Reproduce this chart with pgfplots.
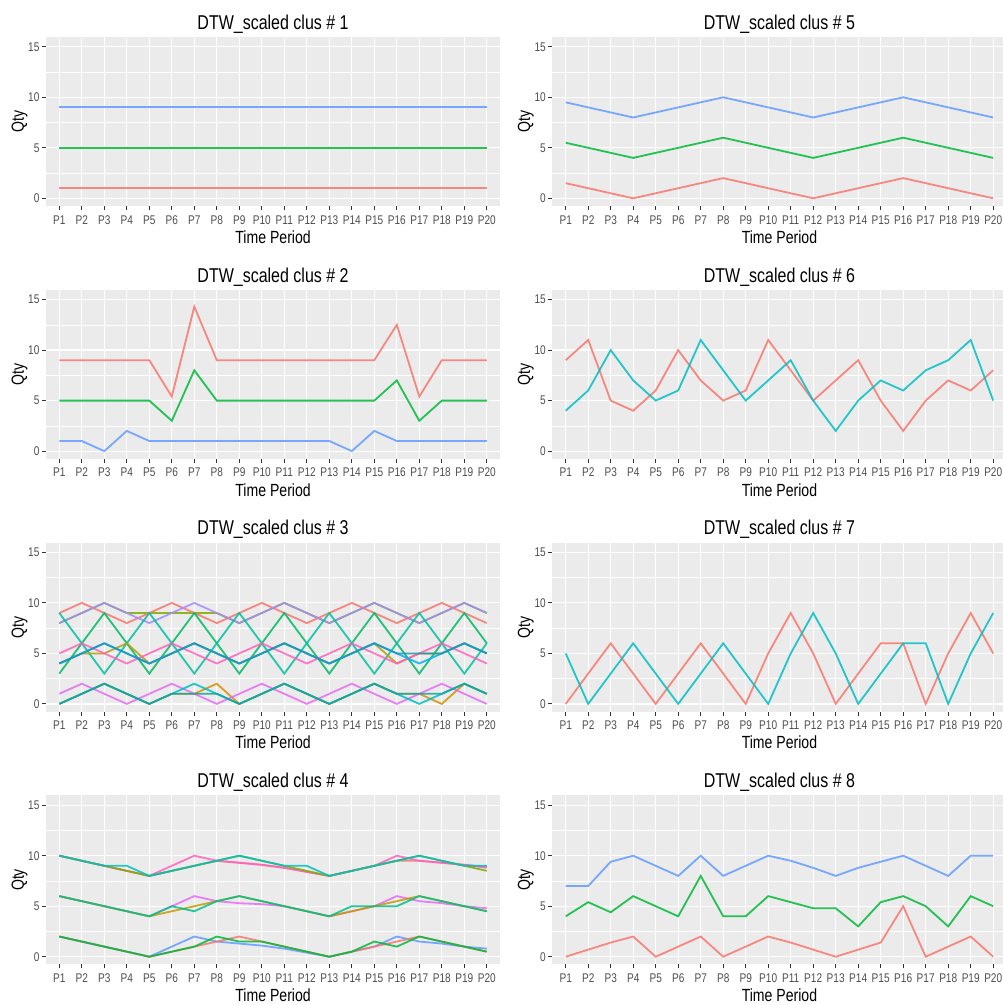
\documentclass[border=0pt]{standalone}
\usepackage{fontspec}
\setmainfont{Liberation Sans}[FakeStretch=0.8]
\usepackage{pgfplots}
\usepackage{pgfplotstable}
\pgfplotsset{compat=1.18}

\definecolor{panelbg}{HTML}{EBEBEB}
\definecolor{tickgrey}{HTML}{333333}
\definecolor{labelgrey}{HTML}{4D4D4D}
\definecolor{ggred}{HTML}{F8766D}
\definecolor{gggreen}{HTML}{00BA38}
\definecolor{ggblue}{HTML}{619CFF}
\definecolor{ggcyan}{HTML}{00BFC4}
\definecolor{ggpurple}{HTML}{A58AFF}
\definecolor{ggolive}{HTML}{7CAE00}
\definecolor{ggvgreen}{HTML}{00BA62}
\definecolor{ggteal}{HTML}{00C0A0}
\definecolor{ggpink}{HTML}{FF62BC}
\definecolor{gglblue}{HTML}{00B0F6}
\definecolor{ggdblue}{HTML}{1F94B8}
\definecolor{ggyolive}{HTML}{B3A000}
\definecolor{ggmag}{HTML}{E76BF3}
\definecolor{ggorange}{HTML}{D89000}
\definecolor{ggmagpink}{HTML}{FF61C3}
\definecolor{ggtgreen}{HTML}{00C08B}
\definecolor{ggmorange}{HTML}{C49A00}
\definecolor{ggdteal}{HTML}{17A39A}

\pgfplotsset{gg/.style={
  scale only axis, width=227.25pt, height=84.45pt,
  anchor=south west,
  xmin=0.4, xmax=20.6, ymin=-0.76, ymax=15.96,
  axis background/.style={fill=panelbg},
  axis line style={draw=none},
  xtick={1,...,20},
  xticklabels={P1,P2,P3,P4,P5,P6,P7,P8,P9,P10,P11,P12,P13,P14,P15,P16,P17,P18,P19,P20},
  ytick={0,5,10,15}, minor ytick={2.5,7.5,12.5},
  xmajorgrids, ymajorgrids, yminorgrids,
  major grid style={white, line width=0.6pt},
  minor grid style={white, line width=0.3pt},
  tick align=outside, xtick pos=lower, ytick pos=left,
  major tick length=2pt, minor tick length=0pt,
  every tick/.style={color=tickgrey, line width=0.5pt},
  tick label style={font=\fontsize{6.3}{7}\selectfont, text=labelgrey},
  xticklabel style={inner sep=1pt, yshift=-1.5pt},
  yticklabel style={inner sep=1pt},
  /pgf/number format/assume math mode=true,
  every axis title shift=0pt,
  title style={at={(axis description cs:0.5,1.0456)}, anchor=base, yshift=0pt, font=\fontsize{10}{12}\selectfont},
  xlabel={Time Period}, ylabel={Qty},
  xlabel style={at={(axis description cs:0.5,-0.2208)}, anchor=base, font=\fontsize{8.8}{10}\selectfont},
  ylabel style={at={(axis description cs:-0.058,0.5)}, anchor=center, font=\fontsize{8.8}{10}\selectfont},
  every axis plot/.append style={line width=0.9pt, opacity=0.85, mark=none},
}}

\pgfplotstableread{
x r g b
1 1 5 9
2 1 5 9
3 1 5 9
4 1 5 9
5 1 5 9
6 1 5 9
7 1 5 9
8 1 5 9
9 1 5 9
10 1 5 9
11 1 5 9
12 1 5 9
13 1 5 9
14 1 5 9
15 1 5 9
16 1 5 9
17 1 5 9
18 1 5 9
19 1 5 9
20 1 5 9
}\tabA

\pgfplotstableread{
x r g b
1 9 5 1
2 9 5 1
3 9 5 0
4 9 5 2
5 9 5 1
6 5.4 3 1
7 14.3 8 1
8 9 5 1
9 9 5 1
10 9 5 1
11 9 5 1
12 9 5 1
13 9 5 1
14 9 5 0
15 9 5 2
16 12.5 7 1
17 5.4 3 1
18 9 5 1
19 9 5 1
20 9 5 1
}\tabB

\pgfplotstableread{
x r pu ol gr te pk lb db yo mg cy dt or
1 9 8 8 3 9 5 4 4 4 1 0 0 0
2 10 9 9 6 6 6 5 5 5 2 1 1 1
3 9 10 10 9 3 5 6 6 5 1 2 2 2
4 8 9 9 6 6 4 5 5 6 0 1 1 1
5 9 8 9 3 9 5 4 4 4 1 0 0 0
6 10 9 9 6 6 6 5 5 5 2 1 1 1
7 9 10 9 9 3 5 6 6 6 1 2 1 1
8 8 9 9 6 6 4 5 5 5 0 1 1 2
9 9 8 8 3 9 5 4 4 4 1 0 0 0
10 10 9 9 6 6 6 5 5 5 2 1 1 1
11 9 10 10 9 3 5 6 6 6 1 2 2 2
12 8 9 9 6 6 4 5 5 5 0 1 1 1
13 9 8 8 3 9 5 4 4 4 1 0 0 0
14 10 9 9 6 6 6 5 5 5 2 1 1 1
15 9 10 10 9 3 5 6 6 6 1 2 2 2
16 8 9 9 6 6 4 5 5 4 0 1 1 1
17 9 8 8 3 9 5 4 5 5 1 0 1 1
18 10 9 9 6 6 6 5 5 5 2 1 1 0
19 9 10 10 9 3 5 6 6 6 1 2 2 2
20 8 9 9 6 6 4 5 5 5 0 1 1 1
}\tabC

\pgfplotstableread{
x tc tg tm tr mv mo mt bb br bg
1 10 10 10 10 6 6 6 2 2 2
2 9.5 9.5 9.5 9.5 5.5 5.5 5.5 1.5 1.5 1.5
3 9 9 9 9 5 5 5 1 1 1
4 9 8.5 8.5 8.5 4.5 4.5 4.5 0.5 0.5 0.5
5 8 8 8 8 4 4 4 0 0 0
6 8.5 8.5 9 8.5 5 4.5 5 1 0.5 0.5
7 9 9 10 9 6 5 4.5 2 1 1
8 9.5 9.5 9.5 9.5 5.5 5.5 5.5 1.5 1.5 2
9 10 10 9.3 9.3 5.3 6 6 1.3 2 1.5
10 9.5 9.5 9.1 9.1 5.2 5.5 5.5 1.1 1.5 1.5
11 9 9 8.8 8.8 5 5 5 0.8 1 1
12 9 8.5 8.4 8.4 4.5 4.5 4.5 0.4 0.5 0.5
13 8 8 8 8 4 4 4 0 0 0
14 8.5 8.5 8.5 8.5 4.5 4.5 5 0.5 0.5 0.5
15 9 9 9 9 5 5 5 1 1 1.5
16 9.5 9.5 10 9.5 6 5.5 5 2 1.5 1
17 10 10 9.5 9.5 5.5 6 6 1.5 2 2
18 9.5 9.5 9.3 9.3 5.3 5.5 5.5 1.3 1.5 1.5
19 9 9 9.1 9.1 5 5 5 1 1 1
20 9 8.5 8.8 8.9 4.8 4.5 4.5 0.8 0.5 0.5
}\tabD

\pgfplotstableread{
x r g b
1 1.5 5.5 9.5
2 1 5 9
3 0.5 4.5 8.5
4 0 4 8
5 0.5 4.5 8.5
6 1 5 9
7 1.5 5.5 9.5
8 2 6 10
9 1.5 5.5 9.5
10 1 5 9
11 0.5 4.5 8.5
12 0 4 8
13 0.5 4.5 8.5
14 1 5 9
15 1.5 5.5 9.5
16 2 6 10
17 1.5 5.5 9.5
18 1 5 9
19 0.5 4.5 8.5
20 0 4 8
}\tabE

\pgfplotstableread{
x r c
1 9 4
2 11 6
3 5 10
4 4 7
5 6 5
6 10 6
7 7 11
8 5 8
9 6 5
10 11 7
11 8 9
12 5 5
13 7 2
14 9 5
15 5 7
16 2 6
17 5 8
18 7 9
19 6 11
20 8 5
}\tabF

\pgfplotstableread{
x r c
1 0 5
2 3 0
3 6 3
4 3 6
5 0 3
6 3 0
7 6 3
8 3 6
9 0 3
10 5 0
11 9 5
12 5 9
13 0 5
14 3 0
15 6 3
16 6 6
17 0 6
18 5 0
19 9 5
20 5 9
}\tabG

\pgfplotstableread{
x r g b
1 0 4 7
2 0.7 5.4 7
3 1.4 4.4 9.4
4 2 6 10
5 0 5 9
6 1 4 8
7 2 8 10
8 0 4 8
9 1 4 9
10 2 6 10
11 1.4 5.4 9.5
12 0.7 4.8 8.8
13 0 4.8 8
14 0.7 3 8.8
15 1.4 5.4 9.4
16 5 6 10
17 0 5 9
18 1 3 8
19 2 6 10
20 0 5 10
}\tabH

\begin{document}
\begin{tikzpicture}
\path[use as bounding box] (0,0) rectangle (501pt,502.5pt);

% Panel 1
\begin{axis}[gg, at={(22.9pt,399.5pt)}, title={DTW\_scaled clus \# 1}]
\addplot[ggred] table[x=x,y=r]{\tabA};
\addplot[gggreen] table[x=x,y=g]{\tabA};
\addplot[ggblue] table[x=x,y=b]{\tabA};
\end{axis}

% Panel 2
\begin{axis}[gg, at={(22.9pt,273.1pt)}, title={DTW\_scaled clus \# 2}]
\addplot[ggred] table[x=x,y=r]{\tabB};
\addplot[gggreen] table[x=x,y=g]{\tabB};
\addplot[ggblue] table[x=x,y=b]{\tabB};
\end{axis}

% Panel 3
\begin{axis}[gg, at={(22.9pt,146.7pt)}, title={DTW\_scaled clus \# 3}]
\addplot[ggolive] table[x=x,y=ol]{\tabC};
\addplot[ggred] table[x=x,y=r]{\tabC};
\addplot[ggpurple] table[x=x,y=pu]{\tabC};
\addplot[ggvgreen] table[x=x,y=gr]{\tabC};
\addplot[ggteal] table[x=x,y=te]{\tabC};
\addplot[ggyolive] table[x=x,y=yo]{\tabC};
\addplot[ggpink] table[x=x,y=pk]{\tabC};
\addplot[gglblue] table[x=x,y=lb]{\tabC};
\addplot[ggdblue] table[x=x,y=db]{\tabC};
\addplot[ggorange] table[x=x,y=or]{\tabC};
\addplot[ggmag] table[x=x,y=mg]{\tabC};
\addplot[ggcyan] table[x=x,y=cy]{\tabC};
\addplot[ggdteal] table[x=x,y=dt]{\tabC};
\end{axis}

% Panel 4
\begin{axis}[gg, at={(22.9pt,20.3pt)}, title={DTW\_scaled clus \# 4}]
\addplot[ggred] table[x=x,y=tr]{\tabD};
\addplot[ggmagpink] table[x=x,y=tm]{\tabD};
\addplot[ggolive] table[x=x,y=tg]{\tabD};
\addplot[ggcyan] table[x=x,y=tc]{\tabD};
\addplot[ggmag] table[x=x,y=mv]{\tabD};
\addplot[ggmorange] table[x=x,y=mo]{\tabD};
\addplot[ggtgreen] table[x=x,y=mt]{\tabD};
\addplot[ggblue] table[x=x,y=bb]{\tabD};
\addplot[ggred] table[x=x,y=br]{\tabD};
\addplot[gggreen] table[x=x,y=bg]{\tabD};
\end{axis}

% Panel 5
\begin{axis}[gg, at={(276.1pt,399.5pt)}, title={DTW\_scaled clus \# 5}]
\addplot[ggred] table[x=x,y=r]{\tabE};
\addplot[gggreen] table[x=x,y=g]{\tabE};
\addplot[ggblue] table[x=x,y=b]{\tabE};
\end{axis}

% Panel 6
\begin{axis}[gg, at={(276.1pt,273.1pt)}, title={DTW\_scaled clus \# 6}]
\addplot[ggred] table[x=x,y=r]{\tabF};
\addplot[ggcyan] table[x=x,y=c]{\tabF};
\end{axis}

% Panel 7
\begin{axis}[gg, at={(276.1pt,146.7pt)}, title={DTW\_scaled clus \# 7}]
\addplot[ggred] table[x=x,y=r]{\tabG};
\addplot[ggcyan] table[x=x,y=c]{\tabG};
\end{axis}

% Panel 8
\begin{axis}[gg, at={(276.1pt,20.3pt)}, title={DTW\_scaled clus \# 8}]
\addplot[ggred] table[x=x,y=r]{\tabH};
\addplot[gggreen] table[x=x,y=g]{\tabH};
\addplot[ggblue] table[x=x,y=b]{\tabH};
\end{axis}

\end{tikzpicture}
\end{document}
